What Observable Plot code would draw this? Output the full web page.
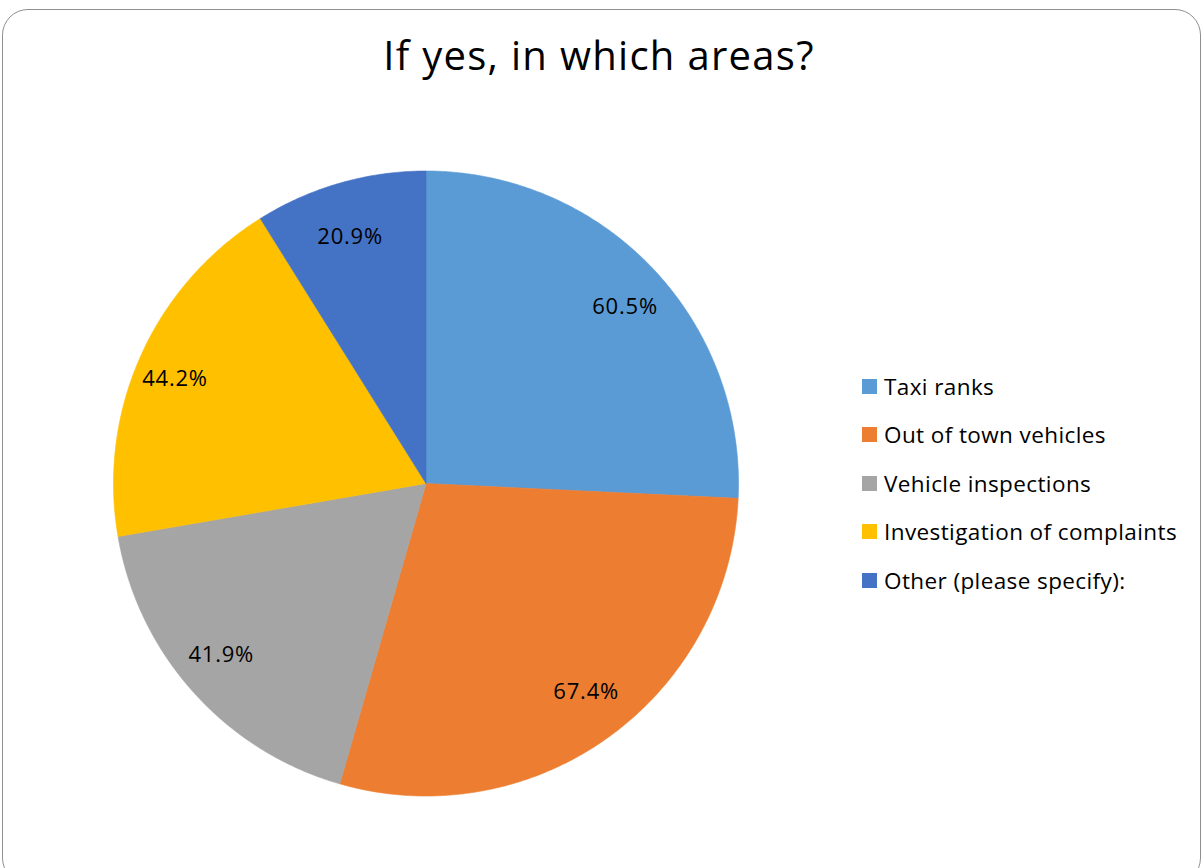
<!DOCTYPE html>
<html>
<head>
<meta charset="utf-8">
<script src="https://cdn.jsdelivr.net/npm/d3@7"></script>
<script src="https://cdn.jsdelivr.net/npm/@observablehq/plot@0.6"></script>
<style>
  html, body { margin: 0; padding: 0; background: #fff; }
  #wrap { position: relative; width: 1203px; height: 868px; overflow: hidden; font-family: "Open Sans", Lato, sans-serif; }
  #frame { position: absolute; left: 2px; top: 9px; width: 1199px; height: 875px; border: 1.5px solid #8f8f8f; border-radius: 26px; box-sizing: border-box; }
  #chart { position: absolute; left: 0; top: 0; }
  #legend { position: absolute; left: 862px; top: 0; }
  .row { position: absolute; left: 0; height: 24px; display: flex; align-items: center; white-space: nowrap; font-size: 22.5px; letter-spacing: 0.4px; color: #000; }
  .sw { width: 15px; height: 15px; margin-right: 7px; flex: none; }
</style>
</head>
<body>
<div id="wrap">
  <div id="frame"></div>
  <div id="chart"></div>
  <div id="legend"></div>
</div>
<script>
const title = "If yes, in which areas?";
const categories = ["Taxi ranks", "Out of town vehicles", "Vehicle inspections", "Investigation of complaints", "Other (please specify):"];
const values = [60.5, 67.4, 41.9, 44.2, 20.9];
const labels = ["60.5%", "67.4%", "41.9%", "44.2%", "20.9%"];
const colors = ["#5B9BD5", "#ED7D31", "#A5A5A5", "#FFC000", "#4472C4"];

// layout constants
const W = 1203, H = 868;
const cx = 425.5, cy = 483, R = 312.5;
const labelRx = 0.88, labelRy = 0.82;

const arcs = d3.pie().sort(null).value(d => d)(values);

// polygon outline of each slice, derived from the pie angles
const slicePts = [];
arcs.forEach((a, i) => {
  const cat = categories[i];
  slicePts.push({cat, x: 0, y: 0});
  const n = Math.max(8, Math.ceil((a.endAngle - a.startAngle) / (Math.PI / 360)));
  for (let k = 0; k <= n; k++) {
    const t = a.startAngle + (a.endAngle - a.startAngle) * k / n;
    slicePts.push({cat, x: Math.sin(t), y: Math.cos(t)});
  }
  slicePts.push({cat, x: 0, y: 0});
});

const labelData = arcs.map((a, i) => {
  const m = (a.startAngle + a.endAngle) / 2;
  return {cat: categories[i], text: labels[i], x: labelRx * Math.sin(m), y: labelRy * Math.cos(m)};
});

const chart = Plot.plot({
  width: W, height: H,
  margin: 0,
  x: {domain: [-1, 1], range: [cx - R, cx + R], axis: null},
  y: {domain: [-1, 1], range: [cy + R, cy - R], axis: null},
  color: {type: "ordinal", domain: categories, range: colors},
  style: {fontFamily: "'Open Sans', Lato, sans-serif", background: "transparent"},
  marks: [
    Plot.line(slicePts, {x: "x", y: "y", z: "cat", fill: "cat", stroke: "cat", strokeWidth: 0.6, curve: "linear"}),
    Plot.text(labelData, {x: "x", y: "y", text: "text", fill: "#000", fontSize: 22, className: "pct"}),
    Plot.text([title], {frameAnchor: "top-left", dx: 598.5, dy: 57, textAnchor: "middle", lineAnchor: "middle", fontSize: 40, fill: "#000", className: "ttl"})
  ]
});
d3.select(chart).selectAll(".pct text").attr("letter-spacing", "0.8px");
d3.select(chart).selectAll(".ttl text").attr("letter-spacing", "1.3px");
document.getElementById("chart").appendChild(chart);

const legend = d3.select("#legend");
const rowCenters0 = 386.5, rowStep = 48.4;
categories.forEach((c, i) => {
  const row = legend.append("div").attr("class", "row").style("top", (rowCenters0 + i * rowStep - 12) + "px");
  row.append("div").attr("class", "sw").style("background", colors[i]);
  row.append("span").text(c);
});
</script>
</body>
</html>
